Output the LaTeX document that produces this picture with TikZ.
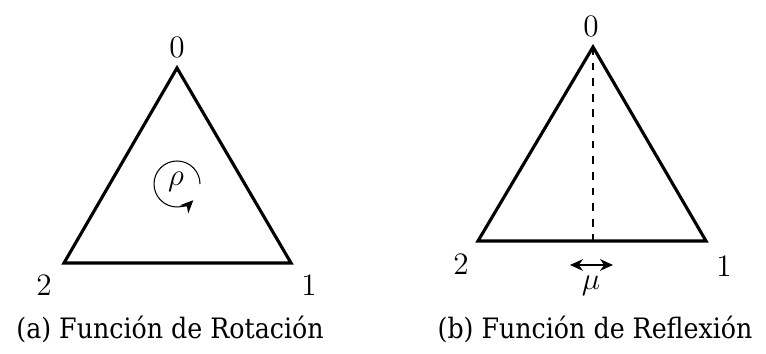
\documentclass[tikz,border=0pt]{standalone}
\usepackage{fontspec}
\newfontfamily\capfont{DejaVu Serif Condensed}
\usetikzlibrary{arrows.meta}

\begin{document}
\begin{tikzpicture}
[
	x=0.0135cm, y=0.0135cm,
	tri/.style={very thick,line join=miter},
	vlabel/.style={inner sep=0pt,font=\fontsize{12}{14}\selectfont},
	caption/.style={inner sep=0pt,font=\fontsize{10.8}{13}\selectfont\capfont},
	tip/.style={Stealth[length=5pt,width=4.5pt]}
]
	\useasboundingbox (0,0) rectangle (766,354);

	% (a) rotacion
	\coordinate (a0) at (177,286);
	\coordinate (a1) at (291,91);
	\coordinate (a2) at (64,91);
	\draw[tri] (a0) -- (a1) -- (a2) -- cycle;

	\node[vlabel] at (177,307) (la0) {0};
	\node[vlabel] at (309,69) (la1) {1};
	\node[vlabel] at (44,69) (la2) {2};

	\coordinate (rc) at (177,170);
	\node[vlabel] at (176,172) (rho) {$\rho$};
	\draw[-{Stealth[length=5pt,width=4.5pt]}] (rc) ++(23,0) arc (0:315:23);

	% (b) reflexion
	\coordinate (b0) at (593,307);
	\coordinate (b1) at (706,113);
	\coordinate (b2) at (478,113);
	\coordinate (bm) at (593,113);
	\draw[tri] (b0) -- (b1) -- (b2) -- cycle;
	\draw[dashed] (b0) -- (bm);

	\node[vlabel] at (591,328) (lb0) {0};
	\node[vlabel] at (724,88) (lb1) {1};
	\node[vlabel] at (461,90) (lb2) {2};

	\coordinate (ml) at (570,89);
	\coordinate (mr) at (613,89);
	\draw[{Stealth[length=5pt,width=4.5pt]}-{Stealth[length=5pt,width=4.5pt]}] (ml) -- (mr);
	\node[vlabel] at (591,68) (mu) {$\mu$};

	\node[caption] at (170,25) (capa) {(a) Función de Rotación};
	\node[caption] at (595,25) (capb) {(b) Función de Reflexión};

\end{tikzpicture}
\end{document}
